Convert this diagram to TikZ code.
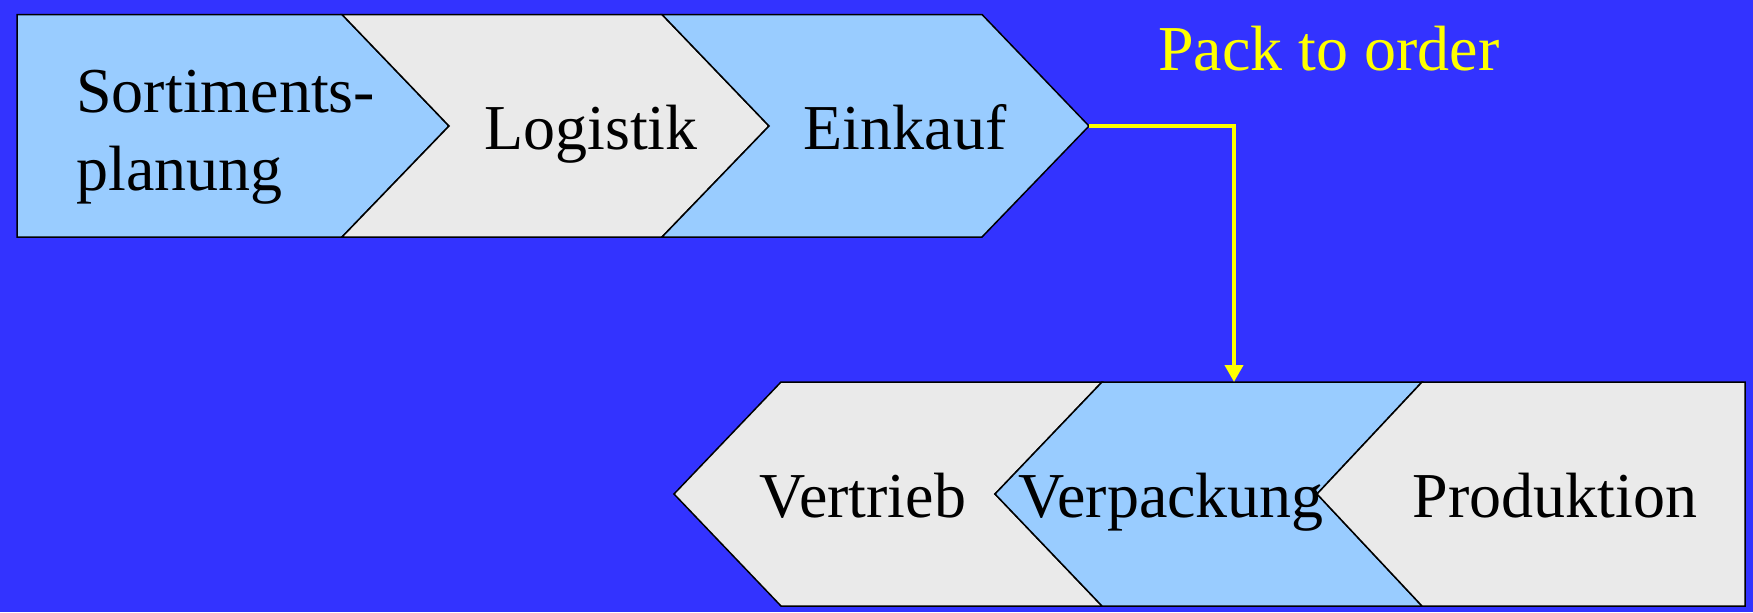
\documentclass[tikz,border=0pt]{standalone}
\usepackage{fontspec}
\setmainfont{Liberation Serif}
\usetikzlibrary{arrows.meta}
\definecolor{bgblue}{RGB}{51,51,255}
\definecolor{lblue}{RGB}{153,204,255}
\definecolor{lgray}{RGB}{234,234,234}
\definecolor{yel}{RGB}{255,255,0}
\tikzset{
  stage/.style={draw=black, line width=0.75pt, line join=miter},
  bluestage/.style={stage, fill=lblue},
  graystage/.style={stage, fill=lgray},
  label/.style={inner sep=0pt, font=\fontsize{32}{39}\selectfont, text=black},
  flow/.style={draw=yel, line width=2pt, -{Triangle[length=8.5pt,width=9pt]}}
}
\begin{document}
\begin{tikzpicture}[x=0.5pt, y=-0.5pt]
\useasboundingbox (0,0) rectangle (1753,612);
\fill[bgblue] (0,0) rectangle (1753,612);
% top row
\draw[bluestage] (17,14.5) -- (342,14.5) -- (449,126) -- (342,237) -- (17,237) -- cycle;
\draw[graystage] (342,14.5) -- (662,14.5) -- (769,126) -- (662,237) -- (342,237) -- (449,126) -- cycle;
\draw[bluestage] (662,14.5) -- (982,14.5) -- (1089,126) -- (982,237) -- (662,237) -- (769,126) -- cycle;
% bottom row
\draw[graystage] (781,382) -- (1102,382) -- (995,494) -- (1102,606) -- (781,606) -- (674,494) -- cycle;
\draw[bluestage] (1102,382) -- (1422,382) -- (1317,494) -- (1422,606) -- (1102,606) -- (995,494) -- cycle;
\draw[graystage] (1422,382) -- (1745,382) -- (1745,606) -- (1422,606) -- (1317,494) -- cycle;
% labels
\node[label, align=left, anchor=base west] (sort) at (76,190) {Sortiments-\\planung};
\node[label, anchor=base] (log) at (591,149) {Logistik};
\node[label, anchor=base] (ein) at (905,149) {Einkauf};
\node[label, anchor=base] (vert) at (863,517) {Vertrieb};
\node[label, anchor=base] (verp) at (1171,517) {Verpackung};
\node[label, anchor=base] (prod) at (1555,517) {Produktion};
\node[label, text=yel, anchor=base west] (pto) at (1158,70) {Pack to order};
% connector
\coordinate (eintip) at (1089,126);
\coordinate (verptop) at (1234,382);
\draw[flow] (eintip) -| (verptop);
\end{tikzpicture}
\end{document}
